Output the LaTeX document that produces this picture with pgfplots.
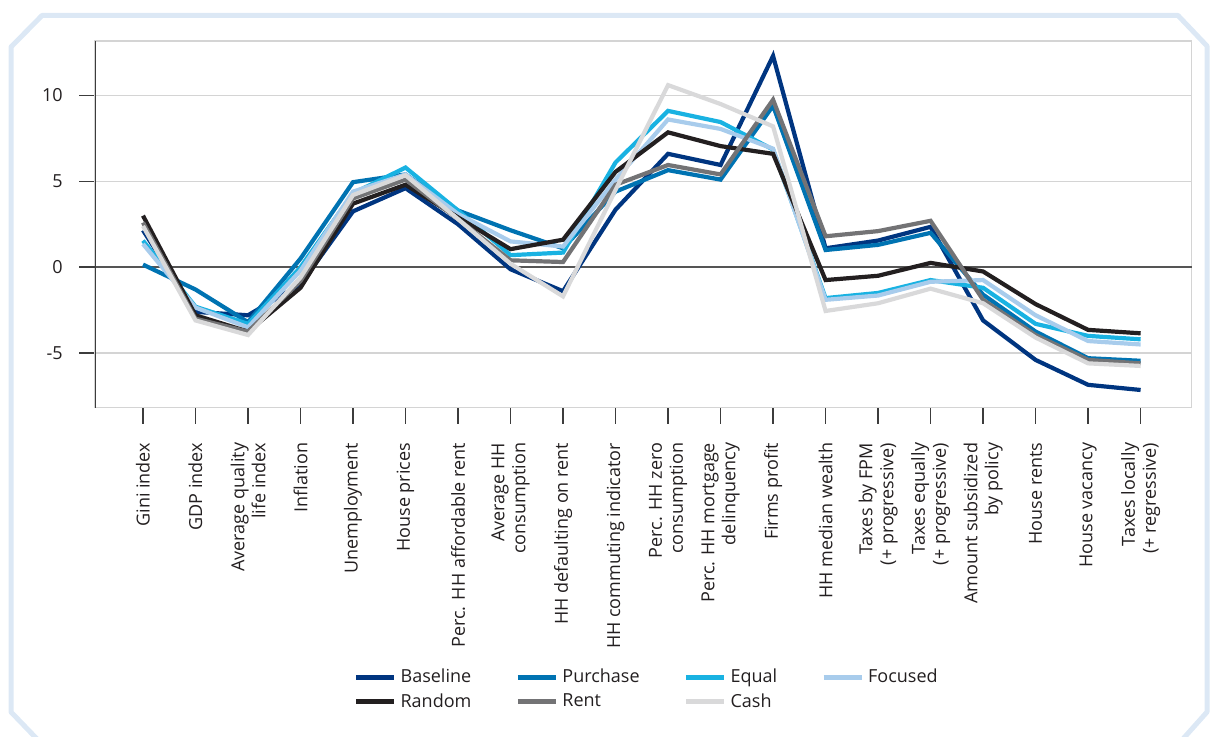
\documentclass[border=0pt]{standalone}
\usepackage{fontspec}
\setmainfont{Open Sans}
\usepackage{pgfplots}
\pgfplotsset{compat=1.18}

\definecolor{cbase}{RGB}{0,53,128}
\definecolor{cpurch}{RGB}{0,115,178}
\definecolor{cequal}{RGB}{25,178,226}
\definecolor{cfocus}{RGB}{168,204,236}
\definecolor{crand}{RGB}{35,31,32}
\definecolor{crent}{RGB}{115,115,117}
\definecolor{ccash}{RGB}{217,217,218}
\definecolor{gridcol}{RGB}{212,212,212}
\definecolor{zerocol}{RGB}{85,85,85}
\definecolor{tickcol}{RGB}{60,60,60}
\definecolor{labelcol}{RGB}{35,31,32}
\definecolor{framecol}{RGB}{220,232,245}

\begin{document}
\begin{tikzpicture}[x=0.5bp,y=0.5bp]
% page is 1216 x 736 px, 1 px = 0.5bp
\path[use as bounding box] (0,0) rectangle (1216,736);
\draw[framecol, line width=2.5bp, line join=round]
  (38,-4) -- (11,24) -- (11,689) -- (42,720.5) -- (1178,720.5)
  -- (1207,690) -- (1207,24) -- (1182,-4);
\coordinate (ax) at (95,328.5);
\begin{axis}[
  at={(ax)}, anchor=south west,
  scale only axis, width=548.25bp, height=183.25bp,
  xmin=-0.914, xmax=19.97, ymin=-8.17, ymax=13.17,
  xtick={0,...,19},
  xticklabels={Gini index, GDP index, {Average quality\\life index}, Inflation,
    Unemployment, House prices, Perc. HH affordable rent, {Average HH\\consumption},
    HH defaulting on rent, HH commuting indicator, {Perc. HH zero\\consumption},
    {Perc. HH mortgage\\delinquency}, Firms profit, HH median wealth,
    {Taxes by FPM\\(+ progressive)}, {Taxes equally\\(+ progressive)},
    {Amount subsidized\\by policy}, House rents, House vacancy,
    {Taxes locally\\(+ regressive)}},
  ytick={-5,5,10}, yticklabels={-5,5,10},
  extra y ticks={0}, extra y tick labels={0},
  extra y tick style={major grid style={draw=zerocol, line width=0.9bp}},
  ymajorgrids,
  major grid style={draw=gridcol, line width=0.75bp},
  tick align=outside, tick pos=left, major tick length=8bp,
  tick style={draw=tickcol, line width=0.75bp},
  axis line style={draw=gridcol, line width=0.75bp},
  ticklabel style={font=\fontsize{9bp}{10.5bp}\selectfont, text=labelcol},
  yticklabel style={inner sep=0pt, xshift=-8bp},
  xticklabel style={yshift=-9.5bp, rotate=90, anchor=east, align=right, inner sep=0pt},
  every axis plot/.append style={line width=2.1bp, line join=miter},
  legend columns=4, legend cell align=left,
  legend style={at={(0.504,-0.769)}, anchor=center, draw=none, fill=none,
    font=\fontsize{9bp}{10.5bp}\selectfont, text=labelcol, row sep=0bp,
    /tikz/every even column/.append style={column sep=20bp}},
  legend image code/.code={\draw[#1, line width=2.5bp] (0bp,0bp) -- (19bp,0bp);},
]
\addplot[cbase] coordinates {(0,2.15)(1,-2.6)(2,-2.8)(3,-1.0)(4,3.25)(5,4.6)(6,2.5)(7,-0.12)(8,-1.4)(9,3.35)(10,6.6)(11,5.95)(12,12.3)(13,1.1)(14,1.55)(15,2.35)(16,-3.1)(17,-5.4)(18,-6.85)(19,-7.15)};
\addplot[cpurch] coordinates {(0,0.15)(1,-1.3)(2,-3.2)(3,0.5)(4,4.95)(5,5.4)(6,3.3)(7,2.15)(8,1.1)(9,4.4)(10,5.65)(11,5.1)(12,9.4)(13,1.0)(14,1.3)(15,2.0)(16,-1.6)(17,-3.75)(18,-5.3)(19,-5.45)};
\addplot[cequal] coordinates {(0,1.55)(1,-2.3)(2,-3.3)(3,0.0)(4,4.3)(5,5.8)(6,3.3)(7,0.7)(8,0.85)(9,6.1)(10,9.1)(11,8.45)(12,6.85)(13,-1.8)(14,-1.5)(15,-0.75)(16,-1.2)(17,-3.3)(18,-4.0)(19,-4.2)};
\addplot[cfocus] coordinates {(0,1.35)(1,-2.35)(2,-3.5)(3,-0.2)(4,4.4)(5,5.4)(6,3.1)(7,1.5)(8,1.2)(9,5.1)(10,8.6)(11,8.05)(12,6.9)(13,-1.9)(14,-1.65)(15,-0.85)(16,-0.75)(17,-2.8)(18,-4.3)(19,-4.5)};
\addplot[crand] coordinates {(0,3.0)(1,-2.8)(2,-3.75)(3,-1.2)(4,3.7)(5,4.8)(6,2.9)(7,1.05)(8,1.6)(9,5.55)(10,7.85)(11,7.05)(12,6.6)(13,-0.75)(14,-0.5)(15,0.25)(16,-0.25)(17,-2.15)(18,-3.65)(19,-3.85)};
\addplot[crent] coordinates {(0,2.6)(1,-3.0)(2,-3.75)(3,-0.8)(4,4.0)(5,5.1)(6,2.8)(7,0.4)(8,0.3)(9,4.8)(10,5.95)(11,5.4)(12,9.75)(13,1.8)(14,2.1)(15,2.7)(16,-1.9)(17,-3.95)(18,-5.4)(19,-5.6)};
\addplot[ccash] coordinates {(0,2.4)(1,-3.1)(2,-3.95)(3,-0.6)(4,4.2)(5,5.35)(6,2.8)(7,0.2)(8,-1.7)(9,4.5)(10,10.6)(11,9.5)(12,8.2)(13,-2.55)(14,-2.1)(15,-1.25)(16,-2.1)(17,-4.1)(18,-5.6)(19,-5.75)};
\draw[draw=tickcol, line width=0.9bp] (rel axis cs:0,0) -- (rel axis cs:0,1);
\legend{Baseline, Purchase, Equal, Focused, Random, Rent, Cash}
\end{axis}
\end{tikzpicture}
\end{document}
